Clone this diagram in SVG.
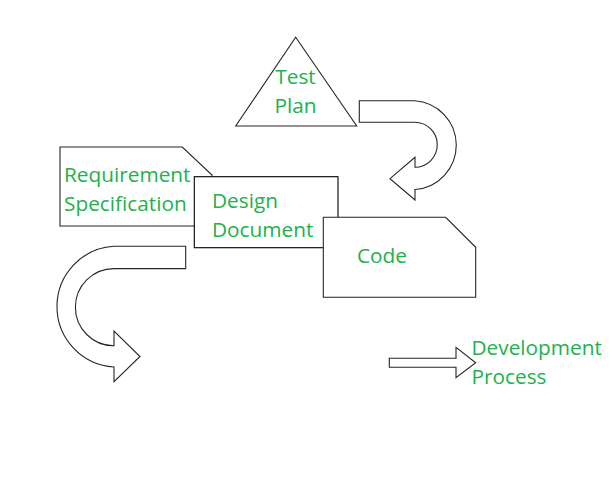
<svg xmlns="http://www.w3.org/2000/svg" width="611" height="491" viewBox="0 0 611 491">
<style>
.shape{fill:#fff;stroke:#262626;stroke-width:1.1}
.lbl{font-family:"Open Sans","Segoe UI","Noto Sans",sans-serif;font-size:20.8px;fill:#22B14C}
</style>
<rect width="611" height="491" fill="#fff"/>
<g id="connectors">
<path class="shape" d="M359.3,100.7 L414.5,100.7 A44.5,44.5 0 0 1 415,189.5 L415,200 L390,178.7 L415,157.3 L415,167.3 A22.5,22.5 0 0 0 414.5,122.3 L359.3,122.3 Z"/>
<path class="shape" d="M185.7,246.2 L114,246.2 A60.5,60.5 0 0 0 114,367 L114,381.7 L140,356.5 L114,331 L114,345.8 A38.5,38.5 0 0 1 114,268.6 L185.7,268.6 Z"/>
<path class="shape" d="M389.3,358.3 L456,358.3 L456,347.3 L475.7,362.7 L456,377.7 L456,367.3 L389.3,367.3 Z"/>
</g>
<g id="test-plan">
<polygon class="shape" points="295.7,37.3 356.7,126 235.7,126"/>
<text class="lbl" x="295.5" y="84" text-anchor="middle">Test</text>
<text class="lbl" x="295.5" y="112.5" text-anchor="middle">Plan</text>
</g>
<g id="requirement-specification">
<polygon class="shape" points="60,147 182.3,147 212,175 212,226 60,226"/>
<text class="lbl" x="64" y="181.5">Requirement</text>
<text class="lbl" x="64" y="211">Specification</text>
</g>
<g id="design-document">
<rect class="shape" x="194.3" y="176.7" width="143.7" height="71" style="stroke:#000"/>
<text class="lbl" x="212" y="208">Design</text>
<text class="lbl" x="212" y="236.5">Document</text>
</g>
<g id="code">
<polygon class="shape" points="323.3,217.3 445.7,217.3 475.7,247.3 475.7,297.3 323.3,297.3"/>
<text class="lbl" x="357" y="263">Code</text>
</g>
<g id="development-process">
<text class="lbl" x="471.5" y="355">Development</text>
<text class="lbl" x="471.5" y="383.5">Process</text>
</g>
</svg>
